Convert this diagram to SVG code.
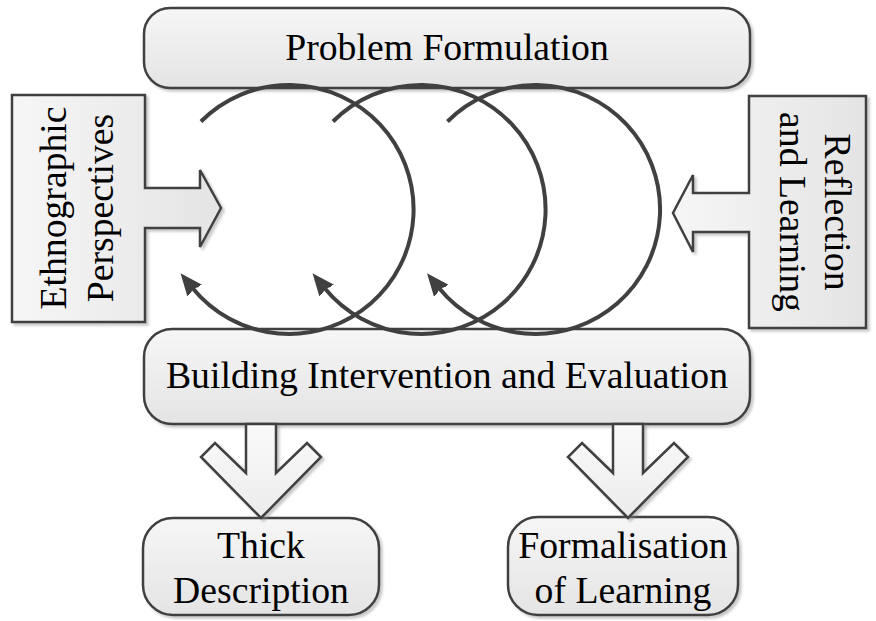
<svg xmlns="http://www.w3.org/2000/svg" width="876" height="621" viewBox="0 0 876 621">
<defs>
<linearGradient id="gv" x1="0" y1="0" x2="0" y2="1">
<stop offset="0" stop-color="#f6f6f6"/>
<stop offset="1" stop-color="#e4e4e4"/>
</linearGradient>
<linearGradient id="gh" x1="0" y1="0" x2="1" y2="0">
<stop offset="0" stop-color="#f6f6f6"/>
<stop offset="1" stop-color="#e4e4e4"/>
</linearGradient>
<linearGradient id="ga" x1="0" y1="0" x2="0" y2="1">
<stop offset="0" stop-color="#fafafa"/>
<stop offset="1" stop-color="#ececec"/>
</linearGradient>
<filter id="sh" x="-10%" y="-10%" width="120%" height="120%">
<feDropShadow dx="2.5" dy="2.5" stdDeviation="1.2" flood-color="#888" flood-opacity="0.45"/>
</filter>
<marker id="ah" markerUnits="userSpaceOnUse" markerWidth="26" markerHeight="26" viewBox="-3 -13 26 26" refX="0" refY="0" orient="auto">
<path d="M-1,0 L-5,-10 L19,0 L-5,10 Z" fill="#404040"/>
</marker>
<style>
.box{stroke:#404040;stroke-width:2.5;filter:url(#sh)}
.t{font-family:"Liberation Serif","Times New Roman",serif;font-size:37.7px;fill:#000;text-anchor:middle}
.cyc{fill:none;stroke:#404040;stroke-width:4;marker-end:url(#ah)}
.da{fill:url(#ga);stroke:#404040;stroke-width:2.5;stroke-linejoin:miter;filter:url(#sh)}
</style>
</defs>
<rect width="876" height="621" fill="#fff"/>

<g id="problem-formulation">
<rect class="box" x="144" y="8" width="606" height="80" rx="26" fill="url(#gv)"/>
<text class="t" x="447" y="60">Problem Formulation</text>
</g>

<g id="building-intervention">
<rect class="box" x="144" y="329" width="606" height="95" rx="28" fill="url(#gv)"/>
<text class="t" x="447" y="388">Building Intervention and Evaluation</text>
</g>

<g id="ethnographic-perspectives">
<polygon class="box" fill="url(#gh)" points="12,95 145,95 145,188 200,188 200,170 221,208 200,247 200,228 145,228 145,322 12,322"/>
<g transform="translate(78,208) rotate(-90)">
<text class="t" x="0" y="-12">Ethnographic</text>
<text class="t" x="0" y="35">Perspectives</text>
</g>
</g>

<g id="reflection-learning">
<polygon class="box" fill="url(#gh)" points="866,96 749,96 749,193 693,193 693,175 673,213 693,252 693,232 749,232 749,328 866,328"/>
<g transform="translate(807,212) rotate(90)">
<text class="t" x="0" y="-18">Reflection</text>
<text class="t" x="0" y="27">and Learning</text>
</g>
</g>

<g id="thick-description">
<rect class="box" x="143" y="518" width="236" height="97" rx="30" fill="url(#gv)"/>
<text class="t" x="261" y="558">Thick</text>
<text class="t" x="261" y="603">Description</text>
</g>

<g id="formalisation-learning">
<rect class="box" x="508" y="517" width="230" height="98" rx="30" fill="url(#gv)"/>
<text class="t" x="623" y="558">Formalisation</text>
<text class="t" x="623" y="603">of Learning</text>
</g>

<g id="cycles">
<path class="cyc" d="M200.97,121.47 A124.5,124.5 0 1 1 192.5,288"/>
<path class="cyc" d="M332.97,121.47 A124.5,124.5 0 1 1 324.5,288"/>
<path class="cyc" d="M447.47,121.47 A124.5,124.5 0 1 1 439,288"/>
</g>

<g id="connectors">
<polygon class="da" points="246,424 246,473 215,443 201,457 261,518 321,457 307,443 276,473 276,424"/>
<polygon class="da" points="613,424 613,473 582,443 568,457 628,518 688,457 674,443 643,473 643,424"/>
</g>
</svg>
